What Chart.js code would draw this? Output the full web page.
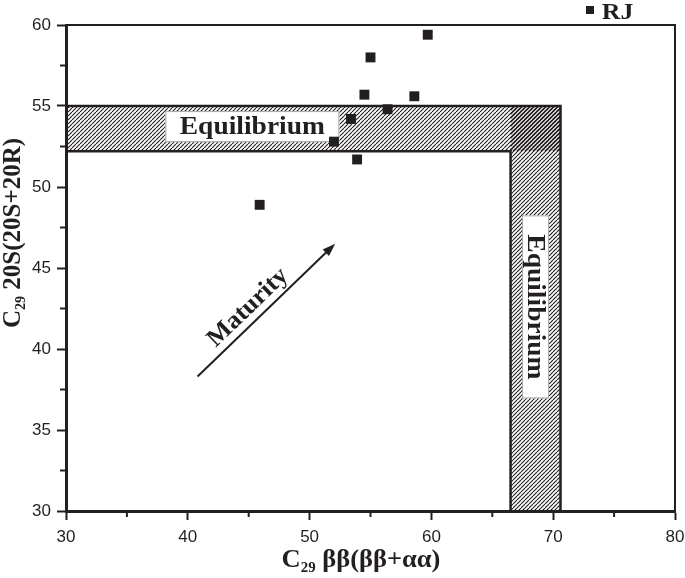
<!DOCTYPE html>
<html>
<head>
<meta charset="utf-8">
<script src="https://cdn.jsdelivr.net/npm/chart.js@4/dist/chart.umd.min.js"></script>
<style>
  html, body { margin: 0; padding: 0; background: #fff; }
</style>
</head>
<body>
<canvas id="myChart" width="685" height="578"></canvas>
<script>
/* global Chart */
// sterane maturity samples
var sampleX = [45.9, 52.0, 53.4, 53.9, 54.5, 55.0, 56.4, 58.6, 59.7]
var sampleY = [48.9, 52.8, 54.2, 51.7, 55.7, 58.0, 54.8, 55.6, 59.4]
var rjX = [73.0]
var rjY = [60.9]
var rjLabel = 'RJ'
// equilibrium ranges
var bandY = [52.2, 55]
var bandX = [66.5, 70.6]
// maturity arrow
var arrowX = [40.8, 52.1]
var arrowY = [38.3, 46.5]
var xTicks = [30, 40, 50, 60, 70, 80]
var yTicks = [30, 35, 40, 45, 50, 55, 60]
var xMinor = [35, 45, 55, 65, 75]
var yMinor = [32.5, 37.5, 42.5, 47.5, 52.5, 57.5]

var ink = '#231f20'
var serif = '"Liberation Serif", "Times New Roman", serif'
var sans = '"Liberation Sans", Arial, sans-serif'

function hatch (shift) {
  var c = document.createElement('canvas')
  c.width = 4
  c.height = 4
  var g = c.getContext('2d')
  g.strokeStyle = ink
  g.lineWidth = 1.1
  g.beginPath()
  ;[-4, 0, 4].forEach(function (o) {
    g.moveTo(o + shift, 4)
    g.lineTo(o + shift + 4, 0)
  })
  g.stroke()
  return g.createPattern(c, 'repeat')
}

// text pieces: [text, size, dy]
function drawParts (ctx, parts, x, y, sx) {
  var total = 0
  parts.forEach(function (p) {
    ctx.font = 'bold ' + p[1] + 'px ' + serif
    total += ctx.measureText(p[0]).width
  })
  ctx.save()
  ctx.translate(x, y)
  ctx.scale(sx, 1)
  var cx = -total / 2
  parts.forEach(function (p) {
    ctx.font = 'bold ' + p[1] + 'px ' + serif
    ctx.fillText(p[0], cx, p[2])
    cx += ctx.measureText(p[0]).width
  })
  ctx.restore()
}

function labelBox (ctx, text, cx, cy, w, h, angle) {
  ctx.save()
  ctx.translate(cx, cy)
  ctx.rotate(angle)
  ctx.fillStyle = '#fff'
  ctx.fillRect(-w / 2, -h / 2, w, h)
  ctx.strokeStyle = '#aaa'
  ctx.lineWidth = 1
  ctx.strokeRect(-w / 2 + 0.5, -h / 2 + 0.5, w - 1, h - 1)
  ctx.fillStyle = ink
  ctx.font = 'bold 25px ' + serif
  ctx.textAlign = 'center'
  ctx.textBaseline = 'middle'
  ctx.scale(1.1, 1)
  ctx.fillText(text, 0, 1)
  ctx.restore()
}

function square (ctx, x, y, s) {
  ctx.fillStyle = ink
  ctx.fillRect(Math.round(x - s / 2), Math.round(y - s / 2), s, s)
}

var decor = {
  id: 'decor',
  afterDatasetDraw: function (chart, args) {
    if (args.index !== 2) return
    var ctx = chart.ctx
    var xs = chart.scales.x
    var ys = chart.scales.y
    labelBox(ctx, 'Equilibrium', xs.getPixelForValue(45.3), ys.getPixelForValue(53.73), 174, 31, 0)
    labelBox(ctx, 'Equilibrium', xs.getPixelForValue(68.55), ys.getPixelForValue(42.6), 183, 27, Math.PI / 2)

    // arrow
    var x0 = xs.getPixelForValue(arrowX[0])
    var y0 = ys.getPixelForValue(arrowY[0])
    var x1 = xs.getPixelForValue(arrowX[1])
    var y1 = ys.getPixelForValue(arrowY[1])
    var a = Math.atan2(y1 - y0, x1 - x0)
    ctx.save()
    ctx.strokeStyle = ink
    ctx.fillStyle = ink
    ctx.lineWidth = 2
    ctx.beginPath()
    ctx.moveTo(x0, y0)
    ctx.lineTo(x1 - 8 * Math.cos(a), y1 - 8 * Math.sin(a))
    ctx.stroke()
    ctx.translate(x1, y1)
    ctx.rotate(a)
    ctx.beginPath()
    ctx.moveTo(0, 0)
    ctx.lineTo(-13, -4.5)
    ctx.lineTo(-13, 4.5)
    ctx.closePath()
    ctx.fill()
    ctx.restore()

    ctx.save()
    ctx.translate(xs.getPixelForValue(44.95), ys.getPixelForValue(42.55))
    ctx.rotate(a)
    ctx.fillStyle = ink
    ctx.font = 'bold 25px ' + serif
    ctx.textAlign = 'center'
    ctx.textBaseline = 'middle'
    ctx.scale(1.05, 1)
    ctx.fillText('Maturity', 0, 0)
    ctx.restore()
  },
  afterDraw: function (chart) {
    var ctx = chart.ctx
    var area = chart.chartArea
    var xs = chart.scales.x
    var ys = chart.scales.y
    ctx.save()
    ctx.strokeStyle = ink
    ctx.lineWidth = 2
    ctx.beginPath()
    ctx.moveTo(area.left, area.top)
    ctx.lineTo(area.right, area.top)
    ctx.lineTo(area.right, area.bottom)
    ctx.stroke()
    // minor ticks
    ctx.beginPath()
    xMinor.forEach(function (v) {
      var p = xs.getPixelForValue(v)
      ctx.moveTo(p, area.bottom)
      ctx.lineTo(p, area.bottom + 6)
    })
    yMinor.forEach(function (v) {
      var p = ys.getPixelForValue(v)
      ctx.moveTo(area.left, p)
      ctx.lineTo(area.left - 6, p)
    })
    ctx.stroke()

    // RJ sits above the frame, outside the chart area
    rjX.forEach(function (v, i) {
      var px = xs.getPixelForValue(v)
      var py = ys.getPixelForValue(rjY[i])
      square(ctx, px, py, 8)
      ctx.save()
      ctx.fillStyle = ink
      ctx.font = 'bold 24px ' + serif
      ctx.textBaseline = 'alphabetic'
      ctx.translate(px + 12, py + 9)
      ctx.scale(1.08, 1)
      ctx.fillText(rjLabel, 0, 0)
      ctx.restore()
    })

    // axis titles
    ctx.fillStyle = ink
    drawParts(ctx, [['C', 25, 0], ['29', 14, 5], [' \u03b2\u03b2(\u03b2\u03b2+\u03b1\u03b1)', 25, 0]], 361, 567, 1.06)
    ctx.translate(20, 233)
    ctx.rotate(-Math.PI / 2)
    drawParts(ctx, [['C', 25, 0], ['29', 14, 5], [' 20S(20S+20R)', 25, 0]], 0, 0, 1)
    ctx.restore()
  }
}

var ctx = document.getElementById('myChart')
var myChart = new Chart(ctx, {
  type: 'scatter',
  data: {
    datasets: [
      {
        data: sampleX.map(function (v, i) { return { x: v, y: sampleY[i] } }),
        pointStyle: 'rect',
        pointRadius: 7,
        pointHoverRadius: 7,
        backgroundColor: ink,
        hoverBackgroundColor: ink,
        borderWidth: 0,
        order: -1
      },
      {
        data: rjX.map(function (v, i) { return { x: v, y: rjY[i] } }),
        pointStyle: 'rect',
        pointRadius: 5.5,
        backgroundColor: ink,
        borderWidth: 0,
        clip: false
      },
      {
        data: [{ x: 30, y: bandY[1] }, { x: bandX[1], y: bandY[1] }, { x: bandX[1], y: 30 }],
        showLine: true,
        borderColor: ink,
        borderWidth: 2.5,
        pointRadius: 0,
        fill: false
      },
      {
        data: [{ x: 30, y: bandY[0] }, { x: bandX[0], y: bandY[0] }, { x: bandX[0], y: 30 }],
        showLine: true,
        borderColor: ink,
        borderWidth: 2.5,
        pointRadius: 0,
        fill: false
      },
      {
        data: [{ x: 30, y: bandY[1] }, { x: bandX[1], y: bandY[1] }],
        showLine: true,
        borderWidth: 0,
        pointRadius: 0,
        backgroundColor: hatch(0),
        fill: { value: bandY[0] }
      },
      {
        data: [{ x: bandX[0], y: bandY[1] }, { x: bandX[1], y: bandY[1] }],
        showLine: true,
        borderWidth: 0,
        pointRadius: 0,
        backgroundColor: hatch(1),
        fill: { value: 30 }
      }
    ]
  },
  options: {
    responsive: false,
    animation: false,
    events: [],
    devicePixelRatio: 1,
    layout: { padding: { top: 25, right: 10, left: 0, bottom: 0 } },
    plugins: { legend: { display: false }, tooltip: { enabled: false } },
    scales: {
      x: {
        min: 30,
        max: 80,
        afterFit: function (scale) {
          scale.height = 67
          scale.paddingLeft = 0
          scale.paddingRight = 0
        },
        border: { color: ink, width: 3 },
        grid: {
          drawOnChartArea: false,
          tickLength: 9,
          tickWidth: 2,
          tickColor: function (c) { return xTicks.indexOf(c.tick.value) >= 0 ? ink : 'transparent' }
        },
        ticks: {
          stepSize: 5,
          padding: 7,
          color: ink,
          font: { family: sans, size: 17 },
          maxRotation: 0,
          autoSkip: false,
          callback: function (v) { return xTicks.indexOf(v) >= 0 ? v : '' }
        }
      },
      y: {
        min: 30,
        max: 60,
        afterFit: function (scale) {
          scale.width = 66
          scale.paddingTop = 0
          scale.paddingBottom = 0
        },
        border: { color: ink, width: 3 },
        grid: {
          drawOnChartArea: false,
          tickLength: 9,
          tickWidth: 2,
          tickColor: function (c) { return yTicks.indexOf(c.tick.value) >= 0 ? ink : 'transparent' }
        },
        ticks: {
          stepSize: 2.5,
          padding: 6,
          color: ink,
          font: { family: sans, size: 17 },
          autoSkip: false,
          callback: function (v) { return yTicks.indexOf(v) >= 0 ? v : '' }
        }
      }
    }
  },
  plugins: [decor]
})
</script>
</body>
</html>
